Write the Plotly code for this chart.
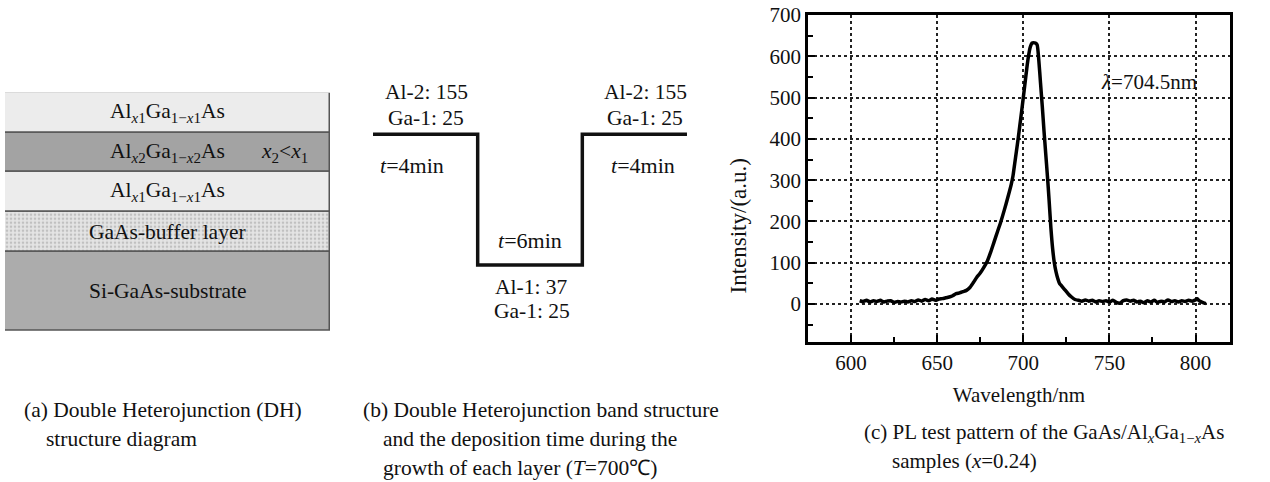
import plotly.graph_objects as go

W, H = 1270, 482

# ---------------- data ----------------
# (a) layer stack, listed bottom -> top
layer_names = ["Si-GaAs-substrate", "GaAs-buffer layer",
               "Al<sub><i>x</i>1</sub>Ga<sub>1−<i>x</i>1</sub>As",
               "Al<sub><i>x</i>2</sub>Ga<sub>1−<i>x</i>2</sub>As",
               "Al<sub><i>x</i>1</sub>Ga<sub>1−<i>x</i>1</sub>As"]
layer_thickness = [2, 1, 1, 1, 1]
layer_colors = ["#acacac", "#e4e4e4", "#ececec", "#a3a3a3", "#ececec"]
layer_pattern = ["", ".", "", "", ""]

# (b) band profile (segment index vs level)
band_x = [0, 1, 1, 2, 2, 3]
band_level = [1, 1, 0, 0, 1, 1]
band_top_labels = ["Al-2: 155", "Ga-1: 25"]
band_bottom_labels = ["Al-1: 37", "Ga-1: 25"]
band_times = ["<i>t</i>=4min", "<i>t</i>=6min", "<i>t</i>=4min"]

# (c) PL spectrum
wavelength = [605, 607, 609, 611, 613, 615, 617, 619, 621, 623, 625, 627, 629, 631, 633, 635, 637, 639,
              641, 643, 645, 647, 649, 651, 653, 655, 657, 659, 661, 663, 665, 667, 669, 671, 673, 675,
              677, 679, 681, 683, 685, 687, 689, 691, 693, 694, 695, 696, 697, 698, 699, 700, 701, 702,
              703, 704, 705, 706, 707, 708, 709, 710, 711, 712, 713, 714, 715, 716, 717, 718, 719, 720,
              721, 722, 724, 726, 728, 730, 732, 734, 736, 738, 740, 742, 744, 746, 748, 750, 752, 754,
              756, 758, 760, 762, 764, 766, 768, 770, 772, 774, 776, 778, 780, 782, 784, 786, 788, 790,
              792, 794, 796, 798, 800, 801, 802, 804, 806]
intensity = [8, 6, 9, 5, 8, 6, 9, 5, 7, 8, 4, 6, 5, 7, 5, 8, 6, 10,
             7, 11, 8, 12, 9, 12, 13, 15, 17, 20, 25, 27, 30, 33, 40, 52, 65, 75,
             88, 103, 125, 150, 175, 200, 228, 258, 290, 310, 340, 370, 400, 433, 466, 500, 535, 570,
             600, 622, 632, 633, 632, 628, 590, 535, 480, 420, 365, 310, 250, 185, 135, 100, 78, 62,
             50, 45, 35, 25, 17, 11, 9, 7, 10, 7, 9, 5, 8, 6, 8, 5, 9, 4,
             2, 8, 10, 7, 9, 5, 7, 3, 8, 5, 9, 4, 7, 5, 10, 6, 8, 5,
             8, 6, 9, 7, 10, 13, 8, 4, 1]
x_ticks = [600, 650, 700, 750, 800]
y_ticks = [0, 100, 200, 300, 400, 500, 600, 700]
peak_label = "<i>λ</i>=704.5nm"

FONT = "Liberation Serif"
INK = "#111111"


def px(x):
    return x / W


def py(y):
    return 1 - y / H


fig = go.Figure()

# ---------------- (a) structure stack ----------------
base = 0
layer_bases = []
for name, t, c, pat in zip(layer_names, layer_thickness, layer_colors, layer_pattern):
    layer_bases.append(base)
    fig.add_trace(go.Bar(
        x=[0.5], y=[t], base=[base], width=[1.0],
        marker=dict(color=c, line=dict(color="#555555", width=1.5),
                    pattern=dict(shape=pat, fgcolor="#9c9c9c", bgcolor=c, size=4, solidity=0.35)),
        xaxis="x2", yaxis="y2", showlegend=False, hoverinfo="skip"))
    base += t

annotations = []
afont = dict(family=FONT, size=21.5, color=INK)
for name, b, t in zip(layer_names, layer_bases, layer_thickness):
    annotations.append(dict(x=0.5, y=b + t / 2, xref="x2", yref="y2", text=name, showarrow=False, font=afont))
annotations.append(dict(x=0.86, y=layer_bases[3] + layer_thickness[3] / 2, xref="x2", yref="y2",
                        text="<i>x</i><sub>2</sub>&lt;<i>x</i><sub>1</sub>", showarrow=False, font=afont))

# ---------------- (b) band profile ----------------
fig.add_trace(go.Scatter(x=band_x, y=band_level, mode="lines", line=dict(color=INK, width=3.5),
                         xaxis="x3", yaxis="y3", showlegend=False, hoverinfo="skip"))

bfont = dict(family=FONT, size=21.5, color=INK)
tfont = dict(family=FONT, size=22, color=INK)
for xc in (0.51, 2.6):
    annotations.append(dict(x=xc, y=1.326, xref="x3", yref="y3", text=band_top_labels[0], showarrow=False, font=bfont))
    annotations.append(dict(x=xc, y=1.125, xref="x3", yref="y3", text=band_top_labels[1], showarrow=False, font=bfont))
annotations.append(dict(x=0.37, y=0.765, xref="x3", yref="y3", text=band_times[0], showarrow=False, font=tfont))
annotations.append(dict(x=2.58, y=0.765, xref="x3", yref="y3", text=band_times[2], showarrow=False, font=tfont))
annotations.append(dict(x=1.5, y=0.19, xref="x3", yref="y3", text=band_times[1], showarrow=False, font=tfont))
annotations.append(dict(x=1.516, y=-0.166, xref="x3", yref="y3", text=band_bottom_labels[0], showarrow=False, font=bfont))
annotations.append(dict(x=1.516, y=-0.35, xref="x3", yref="y3", text=band_bottom_labels[1], showarrow=False, font=bfont))

# ---------------- (c) PL spectrum ----------------
fig.add_trace(go.Scatter(x=wavelength, y=intensity, mode="lines",
                         line=dict(color="#000000", width=3.5, shape="spline", smoothing=0.6),
                         xaxis="x", yaxis="y", showlegend=False))
annotations.append(dict(x=773, y=538, xref="x", yref="y", text=peak_label, showarrow=False,
                        font=dict(family=FONT, size=21, color=INK)))
annotations.append(dict(x=px(738), y=py(157), xref="paper", yref="paper", text="Intensity/(a.u.)",
                        textangle=-90, showarrow=False, font=dict(family=FONT, size=23, color=INK)))

# ---------------- captions ----------------
cfont = dict(family=FONT, size=21.5, color=INK)
cfont_c = dict(family=FONT, size=21, color=INK)
captions = [
    (22, 410, "(a) Double Heterojunction (DH)", cfont),
    (44, 439, "structure diagram", cfont),
    (361, 410, "(b) Double Heterojunction band structure", cfont),
    (381, 439, "and the deposition time during the", cfont),
    (381, 468, "growth of each layer (<i>T</i>=700℃)", cfont),
    (862, 433, "(c) PL test pattern of the GaAs/Al<sub><i>x</i></sub>Ga<sub>1−<i>x</i></sub>As", cfont_c),
    (890, 461, "samples (<i>x</i>=0.24)", cfont_c),
]
for x0, y0, txt, f in captions:
    annotations.append(dict(x=px(x0), y=py(y0), xref="paper", yref="paper", text=txt, showarrow=False,
                            xanchor="left", yanchor="middle", font=f))

hidden = dict(visible=False, showgrid=False, zeroline=False, fixedrange=True, automargin=False)
fig.update_layout(
    width=W, height=H, margin=dict(l=0, r=0, t=0, b=0, autoexpand=False),
    paper_bgcolor="white", plot_bgcolor="white",
    barmode="overlay", bargap=0,
    font=dict(family=FONT, size=21, color=INK),
    xaxis=dict(domain=[px(808), px(1230)], range=[575, 820], tickvals=x_ticks, automargin=False,
               ticks="inside", ticklen=7, tickwidth=2, tickcolor="black",
               minor=dict(dtick=25, tick0=575, ticks="inside", ticklen=5, tickwidth=2, tickcolor="black", showgrid=False),
               showgrid=True, gridcolor="#222222", griddash="dot", gridwidth=1.5,
               showline=True, linecolor="black", linewidth=2.5, mirror=True, zeroline=False,
               tickfont=dict(family=FONT, size=21, color=INK),
               title=dict(text="Wavelength/nm", standoff=14, font=dict(family=FONT, size=21, color=INK))),
    yaxis=dict(domain=[py(342), py(15)], range=[-92, 700], tickvals=y_ticks, automargin=False,
               ticks="inside", ticklen=7, tickwidth=2, tickcolor="black",
               minor=dict(dtick=50, tick0=0, ticks="inside", ticklen=5, tickwidth=2, tickcolor="black", showgrid=False),
               showgrid=True, gridcolor="#222222", griddash="dot", gridwidth=1.5,
               showline=True, linecolor="black", linewidth=2.5, mirror=True, zeroline=False,
               tickfont=dict(family=FONT, size=21, color=INK)),
    xaxis2=dict(hidden, domain=[px(5), px(330)], range=[0, 1], anchor="y2"),
    yaxis2=dict(hidden, domain=[py(331), py(92.7)], range=[0, sum(layer_thickness)], anchor="x2"),
    xaxis3=dict(hidden, domain=[px(367.8), px(692.2)], range=[-0.05, 3.05], anchor="y3"),
    yaxis3=dict(hidden, domain=[py(330.35), py(68.95)], range=[-0.5, 1.5], anchor="x3"),
    annotations=annotations,
)

fig.write_html("out.html", post_script="document.body.style.margin='0';document.body.style.overflow='hidden';")
